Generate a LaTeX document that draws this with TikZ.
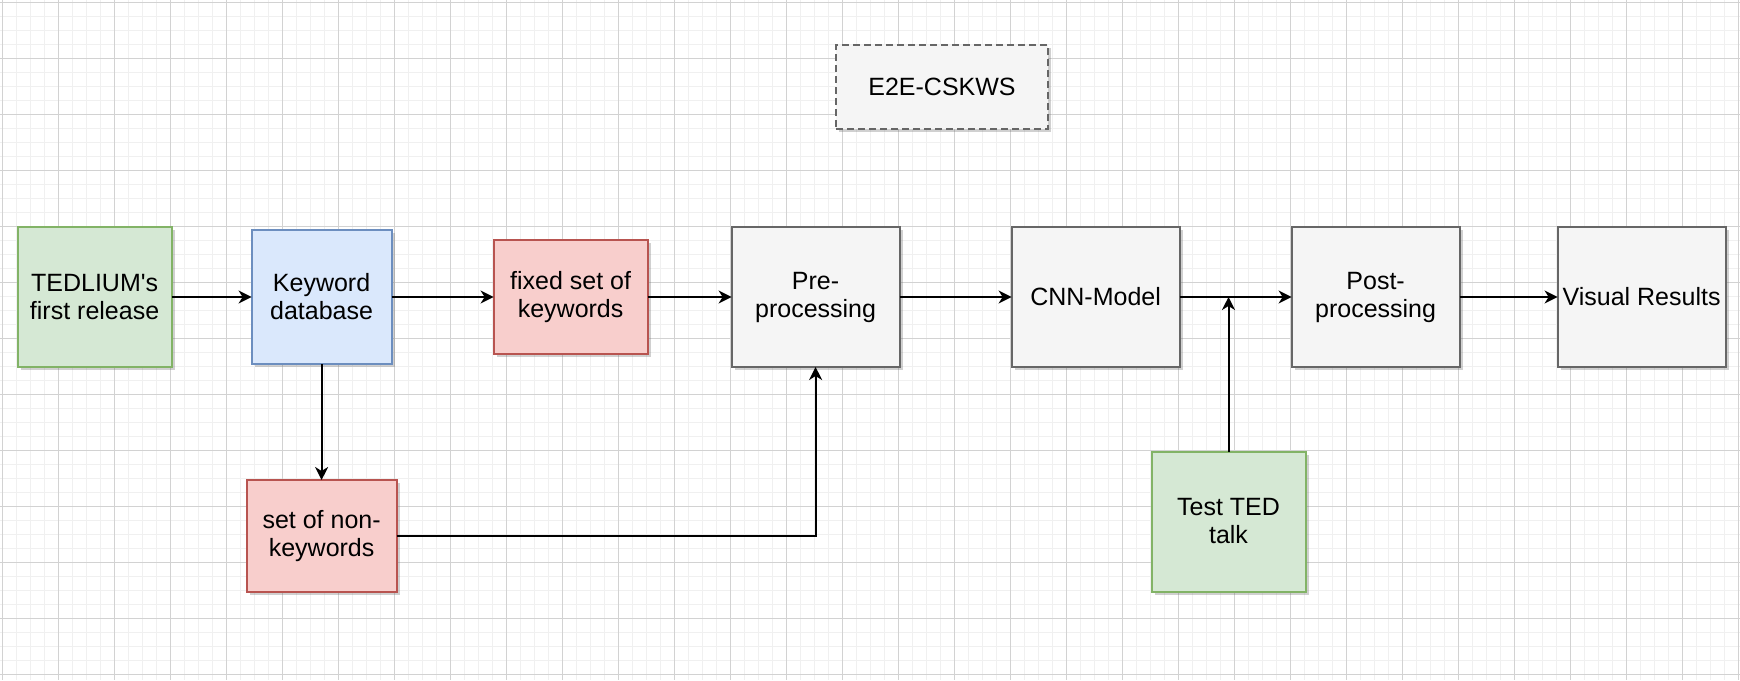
\documentclass[tikz,border=0pt]{standalone}
\usepackage{fontspec}
\setmainfont{Liberation Sans}
\usetikzlibrary{arrows.meta,positioning,shadows}
\definecolor{greenfill}{HTML}{D5E8D4}
\definecolor{greenline}{HTML}{82B366}
\definecolor{bluefill}{HTML}{DAE8FC}
\definecolor{blueline}{HTML}{6C8EBF}
\definecolor{redfill}{HTML}{F8CECC}
\definecolor{redline}{HTML}{B85450}
\definecolor{grayfill}{HTML}{F5F5F5}
\definecolor{grayline}{HTML}{666666}
\definecolor{gridminor}{HTML}{F0F0F0}
\definecolor{gridmajor}{HTML}{D2D2D2}
\tikzset{
  box/.style={draw, rectangle, line width=2pt, inner sep=0pt, outer sep=0pt, align=center,
    font=\fontsize{25}{28}\selectfont,
    drop shadow={shadow xshift=3pt, shadow yshift=-3pt, opacity=0.3, fill=black!60}},
  greenbox/.style={box, fill=greenfill, draw=greenline},
  bluebox/.style={box, fill=bluefill, draw=blueline},
  redbox/.style={box, fill=redfill, draw=redline},
  graybox/.style={box, fill=grayfill, draw=grayline},
  stagebox/.style={graybox, minimum width=168pt, minimum height=140pt}
}

\begin{document}
\begin{tikzpicture}[x=1pt, y=-1pt, line width=2pt,
    >={Stealth[length=13pt,width=13pt,inset=4pt]}]

   \useasboundingbox[fill=white] (0,0) rectangle (1740,680);
   % background grid
   \foreach \g in {0,...,124} \draw[gridminor, line width=1.5pt] ({2.3+14*\g},0) -- ({2.3+14*\g},680);
   \foreach \g in {0,...,48} \draw[gridminor, line width=1.5pt] (0,{2.3+14*\g}) -- (1740,{2.3+14*\g});
   \foreach \g in {0,...,31} \draw[gridmajor, line width=1pt] ({2.3+56*\g},0) -- ({2.3+56*\g},680);
   \foreach \g in {0,...,12} \draw[gridmajor, line width=1pt] (0,{2.3+56*\g}) -- (1740,{2.3+56*\g});

   \node[graybox, dashed, dash pattern=on 7pt off 4pt, minimum width=212pt, minimum height=84pt] (title) at (942,87) {E2E-CSKWS};

   \node[greenbox, minimum width=154pt, minimum height=140pt] (tedlium) at (94.6,297) {TEDLIUM\textquotesingle s\\first release};
   \node[bluebox, minimum width=140pt, minimum height=134pt] (kwdb) [right=80pt of tedlium] {Keyword\\database};
   \node[redbox, minimum width=154pt, minimum height=114pt] (fixedkw) [right=102pt of kwdb] {fixed set of\\keywords};
   \node[stagebox] (pre) [right=84pt of fixedkw] {Pre-\\processing};
   \node[stagebox] (cnn) [right=112pt of pre] {CNN-Model};
   \node[stagebox] (post) [right=112pt of cnn] {Post-\\processing};
   \node[stagebox] (visual) [right=98pt of post] {Visual Results};

   \node[redbox, minimum width=150pt, minimum height=112pt] (nonkw) [below=116pt of kwdb] {set of non-\\keywords};
   \node[greenbox, minimum width=154pt, minimum height=140pt] (testted) at (1228.5,521.5) {Test TED\\talk};

   \path[->] (tedlium) edge (kwdb)
   (kwdb) edge (fixedkw)
   (fixedkw) edge (pre)
   (pre) edge (cnn)
   (cnn) edge (post)
   (post) edge (visual)
   (kwdb) edge (nonkw);

   \draw[->] (nonkw) -| (pre);
   \draw[->] (testted) -- (testted |- cnn.east);

\end{tikzpicture}
\end{document}
